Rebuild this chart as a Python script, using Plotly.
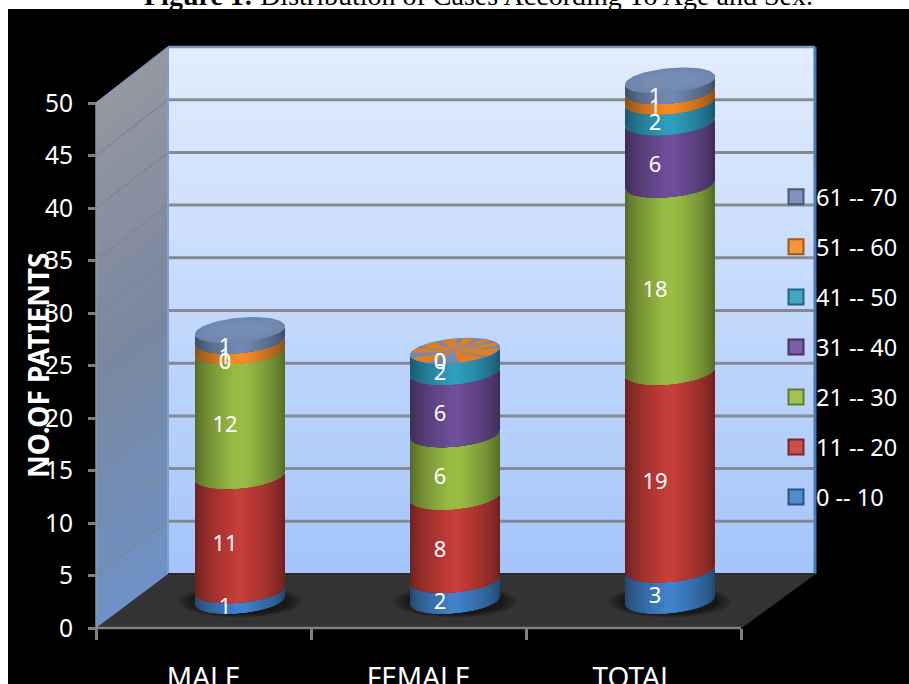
import math
import plotly.graph_objects as go

W, H = 909, 684
categories = ["MALE", "FEMALE", "TOTAL"]
series_names = ["0 -- 10", "11 -- 20", "21 -- 30", "31 -- 40", "41 -- 50", "51 -- 60", "61 -- 70"]
age_0_10 = [1, 2, 3]
age_11_20 = [11, 8, 19]
age_21_30 = [12, 6, 18]
age_31_40 = [0, 6, 6]
age_41_50 = [0, 2, 2]
age_51_60 = [1, 0, 1]
age_61_70 = [1, 0, 1]
series_values = [age_0_10, age_11_20, age_21_30, age_31_40, age_41_50, age_51_60, age_61_70]
series_colors = ["#3F80C8", "#C43C38", "#98BC44", "#6E4E98", "#2F9CBC", "#F58A26", "#7088B0"]
y_ticks = [0, 5, 10, 15, 20, 25, 30, 35, 40, 45, 50]

# plot geometry, in pixels of the page
X0, X1, Y0, Y50 = 96, 741, 628, 103
PX_X = (X1 - X0) / 3
PX_Y = (Y0 - Y50) / 50
DEPTH_X, DEPTH_Y = 72, 54

def to_rgb(h):
    return [int(h[i:i + 2], 16) for i in (1, 3, 5)]

def shade(h, f):
    out = []
    for c in to_rgb(h):
        out.append(int(c * f) if f <= 1 else int(c + (255 - c) * (f - 1)))
    return "rgb(%d,%d,%d)" % tuple(min(255, max(0, v)) for v in out)

def mix(a, b, t):
    return "rgb(%d,%d,%d)" % tuple(int(a[i] + (b[i] - a[i]) * t) for i in range(3))

def px(x):
    return x / W

def py(y):
    return 1 - y / H

def path(points):
    return "M " + " L ".join("%.5f %.5f" % (px(x), py(y)) for x, y in points) + " Z"

shapes = []

def poly(points, color):
    shapes.append(dict(type="path", xref="paper", yref="paper", path=path(points),
                       fillcolor=color, line=dict(width=0), layer="below"))

def seg(x0, y0, x1, y1, color, width):
    shapes.append(dict(type="line", xref="paper", yref="paper", x0=px(x0), y0=py(y0), x1=px(x1), y1=py(y1),
                       line=dict(color=color, width=width), layer="below"))

# page: white strip above and left, black chart area
poly([(8, 9), (W, 9), (W, H), (8, H)], "#000000")

BX0, BX1, BY0, BY1 = X0 + DEPTH_X, 815, Y0 - DEPTH_Y, 47
N = 48
for i in range(N):
    t = i / (N - 1)
    yt = BY1 + (BY0 - BY1) * i / N
    poly([(BX0, yt), (BX1, yt), (BX1, BY0), (BX0, BY0)], mix((226, 236, 253), (165, 198, 251), t))
    ys = Y50 + (Y0 - Y50) * i / N
    ybs = BY1 + (BY0 - BY1) * i / N
    c = mix((150, 151, 161), (122, 136, 160), t * 2) if t < .5 else mix((122, 136, 160), (110, 146, 198), t * 2 - 1)
    poly([(X0, ys), (BX0, ybs), (BX0, BY0), (X0, Y0)], c)

# floor
poly([(X0, Y0), (BX0, BY0), (BX1, BY0), (X1, Y0)], "#333333")

# grid lines from tick values
for v in y_ticks[1:-1]:
    yf = Y0 - PX_Y * v
    yb = BY0 - (BY0 - BY1) / 50 * v
    seg(X0, yf, BX0, yb, "#7f8794", 1.5)
    seg(BX0, yb, BX1, yb, "#858a92", 3)

seg(BX0, BY1, BX1, BY1, "#7d97bd", 2.5)
seg(BX0, BY1, X0, Y50, "#7d97bd", 1.5)
seg(BX0, BY1, BX0, BY0, "#7f9fd0", 2)
seg(BX1, BY1, BX1, BY0, "#4a7ab5", 3)
seg(BX1, BY0, X1, Y0, "#333333", 1)
seg(BX0, BY0, BX1, BY0, "#2a2a2a", 2)
seg(X0, Y0, X1, Y0, "#808080", 2.5)
seg(X0, Y0, X0, Y50, "#8a96aa", 1.5)

# data space helpers: pixel offsets of the mid-depth cylinders
CYL_DX = 36.5 / PX_X
CYL_DY = 27.5 / PX_Y
SCALE = 10.4 / PX_Y
A = 45 / PX_X
B = 12.5 / PX_Y
TILT = 4 / PX_Y

def level(v):
    return CYL_DY + SCALE * v

def arc(i, v, w, n=36, reverse=False):
    """front half of the ring at value v, limited to the central fraction w of the width"""
    th0 = math.acos(w)
    pts = []
    for k in range(n + 1):
        th = th0 + (math.pi - 2 * th0) * k / n
        c, s = math.cos(th), math.sin(th)
        pts.append((i + CYL_DX + A * c, level(v) - B * s + TILT * c))
    return pts[::-1] if reverse else pts

def ring(i, v, scale=1.0, n=72):
    pts = []
    for k in range(n + 1):
        th = 2 * math.pi * k / n
        c, s = math.cos(th) * scale, math.sin(th) * scale
        pts.append((i + CYL_DX + A * c, level(v) - B * s + TILT * c))
    return pts

traces = []

def fill_trace(pts, color, opacity=1.0):
    traces.append(go.Scatter(x=[p[0] for p in pts] + [pts[0][0]], y=[p[1] for p in pts] + [pts[0][1]],
                             mode="lines", fill="toself", fillcolor=color, opacity=opacity,
                             line=dict(width=0), hoverinfo="skip", showlegend=False))

# soft shadows on the floor
for i in range(len(categories)):
    for sc in (1.36, 1.30, 1.24, 1.18, 1.12, 1.06):
        pts = [(i + CYL_DX + A * sc * math.cos(t / 36 * math.pi), level(-0.1) + (B * .95) * sc * math.sin(t / 36 * math.pi)) for t in range(72)]
        fill_trace(pts, "#000000", 0.10)

LAYERS = [(1 - k / 17, .58 + .47 * (k / 17) ** .7) for k in range(16)]
label_x, label_y, label_t = [], [], []

for i in range(len(categories)):
    base = 0
    for si, vals in enumerate(series_values):
        v = vals[i]
        top = base + v
        if v > 0:
            for w, f in LAYERS:
                pts = arc(i, base, w) + arc(i, top, w, reverse=True)
                fill_trace(pts, shade(series_colors[si], f))
        label_x.append(i + CYL_DX - 15 / PX_X)
        label_y.append(level(base + v / 2) - 13 / PX_Y)
        label_t.append(str(v))
        base = top
    # cap of the cylinder
    for sc, f in ((1.0, .98), (.93, 1.0), (.80, 1.02), (.6, 1.04)):
        fill_trace(ring(i, base, sc), shade(series_colors[-1], f))
    # zero-height slices fight with the cap
    if series_values[-1][i] == 0 and series_values[-2][i] == 0:
        spokes = [(-172, -150), (-142, -118), (-108, -88), (-80, -62), (-52, -36), (-28, -6), (4, 42), (50, 86), (128, 165)]
        for a0, a1 in spokes:
            pts = [(i + CYL_DX, level(base))]
            for k in range(9):
                th = math.radians(a0 + (a1 - a0) * k / 8)
                c, s = math.cos(th), math.sin(th)
                pts.append((i + CYL_DX + A * .97 * c, level(base) - B * .97 * s + TILT * c * .97))
            fill_trace(pts, shade(series_colors[-2], .92))

traces.append(go.Scatter(x=label_x, y=label_y, text=label_t, mode="text", showlegend=False, hoverinfo="skip",
                         textposition="middle center", cliponaxis=False,
                         textfont=dict(family="Noto Sans", size=22, color="#ffffff")))

# legend entries, top entry first
for si in range(len(series_names) - 1, -1, -1):
    name = series_names[si]
    traces.append(go.Scatter(x=[None], y=[None], mode="markers", name=name, legendgroup=name,
                             marker=dict(symbol="square", size=15, color=shade(series_colors[si], 1.1),
                                         line=dict(color=shade(series_colors[si], .65), width=2))))

fig = go.Figure(traces)
fig.update_layout(
    width=W, height=H, autosize=False, paper_bgcolor="#ffffff", plot_bgcolor="rgba(0,0,0,0)",
    margin=dict(l=0, r=0, t=0, b=0, autoexpand=False), shapes=shapes,
    font=dict(family="Noto Sans", color="#ffffff"),
    xaxis=dict(domain=[0, 1], range=[(0 - X0) / PX_X - .5, (W - X0) / PX_X - .5], anchor="free", automargin=False,
               position=(H - Y0) / H, tickmode="array", tickvals=[0, 1, 2], ticktext=categories,
               showgrid=False, zeroline=False, showline=False, ticks="outside", ticklen=24,
               tickcolor="rgba(0,0,0,0)", tickfont=dict(family="Noto Sans", size=28, color="#ffffff"),
               minor=dict(tickmode="array", tickvals=[-.5, .5, 1.5, 2.5], ticks="outside", ticklen=11,
                          tickwidth=2.5, tickcolor="#808080", showgrid=False)),
    yaxis=dict(domain=[0, 1], range=[(Y0 - H) / PX_Y, Y0 / PX_Y], anchor="free", position=X0 / W, automargin=False,
               tickmode="array", tickvals=y_ticks, showgrid=False, zeroline=False, showline=False,
               ticks="outside", ticklen=8, tickwidth=2.5, tickcolor="#808080",
               ticklabelstandoff=10, tickfont=dict(family="Noto Sans", size=24.5, color="#ffffff")),
    legend=dict(x=px(776), xanchor="left", y=py(175), yanchor="top", bgcolor="rgba(0,0,0,0)", borderwidth=0,
                traceorder="grouped", tracegroupgap=16.5, itemwidth=30, itemclick=False,
                font=dict(family="Noto Sans", size=23.5, color="#ffffff")),
    annotations=[
        dict(text="<b>NO.OF PATIENTS</b>", xref="paper", yref="paper", x=px(38), y=py(365), textangle=-90,
             showarrow=False, xanchor="center", yanchor="middle",
             font=dict(family="Noto Sans", size=28, color="#ffffff")),
        dict(text="<b>Figure 1:</b> Distribution of Cases According To Age and Sex.", xref="paper", yref="paper",
             x=px(478), y=py(-4.5), showarrow=False, xanchor="center", yanchor="middle",
             font=dict(family="Liberation Serif", size=28, color="#000000")),
    ],
)
fig.write_html("out.html", default_width="909px", default_height="684px",
               config={"responsive": False, "displayModeBar": False},
               post_script="document.body.style.margin='0';document.documentElement.style.overflow='hidden';")
